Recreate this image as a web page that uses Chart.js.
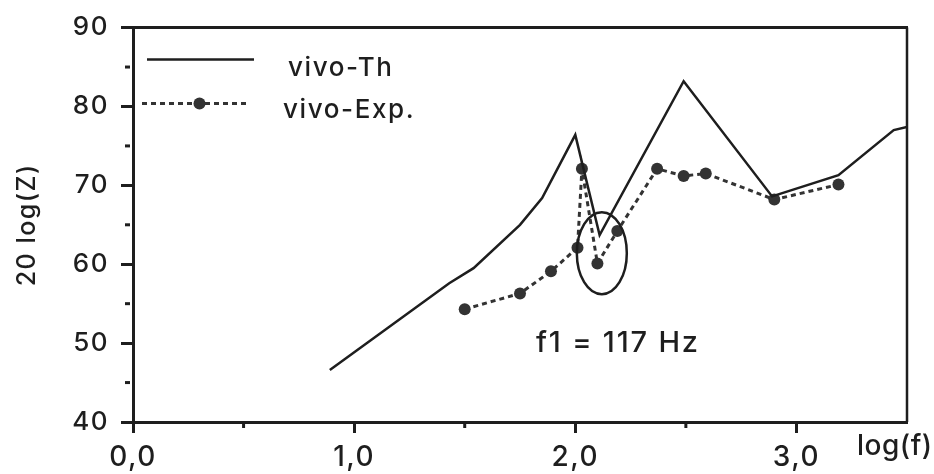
<!DOCTYPE html>
<html><head><meta charset="utf-8">
<script src="https://cdn.jsdelivr.net/npm/chart.js@4.4.1/dist/chart.umd.min.js"></script>
<style>html,body{margin:0;padding:0;background:#fff}</style>
</head><body>
<canvas id="c" width="934" height="474"></canvas>
<script>
// ---- data ----
const thX  = [0.89, 1.43, 1.54, 1.75, 1.85, 2.00, 2.11, 2.49, 2.89, 3.19, 3.44, 3.50];
const thY  = [46.6, 57.6, 59.5, 65.0, 68.4, 76.4, 63.7, 83.2, 68.6, 71.3, 77.0, 77.4];
const expX = [1.50, 1.75, 1.89, 2.01, 2.03, 2.10, 2.19, 2.37, 2.49, 2.59, 2.90, 3.19];
const expY = [54.3, 56.3, 59.1, 62.1, 72.1, 60.1, 64.2, 72.1, 71.2, 71.5, 68.2, 70.1];
const seriesLabels = ['vivo-Th', 'vivo-Exp.'];
const xTickValues = [0, 1, 2, 3];
const xTickLabels = ['0,0', '1,0', '2,0', '3,0'];
const yTickValues = [40, 50, 60, 70, 80, 90];
const yTickLabels = ['40', '50', '60', '70', '80', '90'];
const yTitle = '20 log(Z)';
const xTitle = 'log(f)';
const noteText = 'f1 = 117 Hz';
const notePos = [2.19, 50];
const ellipseCenter = [2.12, 61.4];
const ellipseRadii = [0.113, 5.2];

const FONT = 'Inter, "Liberation Sans", Arial, sans-serif';
const WEIGHT = '500';
const INK = '#1e1e1e';
const SPACING = '1.5px';

function near(v, arr) { return arr.findIndex(a => Math.abs(a - v) < 1e-6); }

const decor = {
  id: 'decor',
  beforeUpdate(chart) { chart.ctx.letterSpacing = SPACING; },
  beforeDraw(chart) {
    const ctx = chart.ctx;
    ctx.save();
    ctx.fillStyle = '#fff';
    ctx.fillRect(0, 0, chart.width, chart.height);
    ctx.restore();
    ctx.letterSpacing = SPACING;
  },
  afterDraw(chart) {
    const ctx = chart.ctx;
    const a = chart.chartArea;
    const xs = chart.scales.x, ys = chart.scales.y;
    ctx.save();
    ctx.strokeStyle = INK;
    ctx.lineCap = 'butt';
    // top & right frame
    ctx.lineWidth = 3;
    ctx.beginPath(); ctx.moveTo(a.left - 1.5, a.top); ctx.lineTo(a.right + 1, a.top); ctx.stroke();
    ctx.lineWidth = 2.5;
    ctx.beginPath(); ctx.moveTo(a.right, a.top); ctx.lineTo(a.right, a.bottom); ctx.stroke();
    // minor ticks
    ctx.lineWidth = 3;
    for (let v = 45; v < 90; v += 10) {
      const y = ys.getPixelForValue(v);
      ctx.beginPath(); ctx.moveTo(a.left - 8, y); ctx.lineTo(a.left - 3, y); ctx.stroke();
    }
    for (let v = 0.5; v < 3.5; v += 1) {
      const x = xs.getPixelForValue(v);
      ctx.beginPath(); ctx.moveTo(x, a.bottom); ctx.lineTo(x, a.bottom + 6); ctx.stroke();
    }
    // ellipse annotation
    const cx = xs.getPixelForValue(ellipseCenter[0]);
    const cy = ys.getPixelForValue(ellipseCenter[1]);
    const rx = Math.abs(xs.getPixelForValue(ellipseCenter[0] + ellipseRadii[0]) - cx);
    const ry = Math.abs(ys.getPixelForValue(ellipseCenter[1] + ellipseRadii[1]) - cy);
    ctx.lineWidth = 2.5;
    ctx.beginPath(); ctx.ellipse(cx, cy, rx, ry, 0, 0, Math.PI * 2); ctx.stroke();

    // legend (inside plot, top-left)
    const ds = chart.data.datasets;
    const rows = [
      {x0: a.left + 14, x1: a.left + 121, y: a.top + 32, tx: a.left + 155, ty: a.top + 41},
      {x0: a.left + 9,  x1: a.left + 116, y: a.top + 76, tx: a.left + 150, ty: a.top + 83}
    ];
    ds.forEach((d, i) => {
      const r = rows[i];
      ctx.save();
      ctx.strokeStyle = d.borderColor;
      ctx.lineWidth = d.borderWidth;
      ctx.setLineDash(d.borderDash || []);
      ctx.beginPath(); ctx.moveTo(r.x0, r.y); ctx.lineTo(r.x1, r.y); ctx.stroke();
      if (d.pointRadius > 0) {
        ctx.fillStyle = d.pointBackgroundColor;
        ctx.beginPath(); ctx.arc((r.x0 + r.x1) / 2 + 4, r.y, d.pointRadius, 0, Math.PI * 2); ctx.fill();
      }
      ctx.restore();
      ctx.fillStyle = INK;
      ctx.font = WEIGHT + ' 26px ' + FONT;
      ctx.letterSpacing = '1.6px';
      ctx.textAlign = 'left';
      ctx.textBaseline = 'middle';
      ctx.fillText(d.label, r.tx, r.ty);
    });

    // note text
    ctx.fillStyle = INK;
    ctx.font = WEIGHT + ' 29px ' + FONT;
    ctx.letterSpacing = '1.8px';
    ctx.textAlign = 'left';
    ctx.textBaseline = 'middle';
    ctx.fillText(noteText, 536, ys.getPixelForValue(notePos[1]));

    // x axis title at right end
    ctx.font = WEIGHT + ' 28px ' + FONT;
    ctx.letterSpacing = '0.5px';
    ctx.textAlign = 'left';
    ctx.textBaseline = 'alphabetic';
    ctx.fillText(xTitle, a.right - 50, a.bottom + 33);
    ctx.restore();
    ctx.letterSpacing = SPACING;
  }
};

new Chart(document.getElementById('c'), {
  type: 'scatter',
  data: {
    datasets: [
      {
        label: seriesLabels[0],
        data: thX.map((x, i) => ({x, y: thY[i]})),
        showLine: true,
        borderColor: INK,
        borderWidth: 2.5,
        pointRadius: 0,
        tension: 0
      },
      {
        label: seriesLabels[1],
        data: expX.map((x, i) => ({x, y: expY[i]})),
        showLine: true,
        borderColor: '#333',
        borderWidth: 3,
        borderDash: [5, 4],
        pointRadius: 6,
        pointBackgroundColor: '#333',
        pointBorderWidth: 0,
        tension: 0
      }
    ]
  },
  options: {
    responsive: false,
    animation: false,
    devicePixelRatio: 1,
    layout: { padding: { left: 0, right: 27, top: 22, bottom: 0 } },
    plugins: { legend: { display: false }, tooltip: { enabled: false } },
    scales: {
      x: {
        type: 'linear', min: 0, max: 3.5,
        ticks: {
          stepSize: 0.5, autoSkip: false, maxRotation: 0, padding: 8,
          color: INK, font: { family: FONT, size: 28, weight: WEIGHT },
          callback: v => { const i = near(v, xTickValues); return i >= 0 ? xTickLabels[i] : ''; }
        },
        grid: {
          drawOnChartArea: false, drawTicks: true, tickLength: 11, tickWidth: 3,
          tickColor: c => (c.tick && near(c.tick.value, xTickValues) >= 0) ? INK : 'rgba(0,0,0,0)'
        },
        border: { display: true, color: INK, width: 3 },
        afterFit: s => { s.height = 52; }
      },
      y: {
        type: 'linear', min: 40, max: 90,
        ticks: {
          stepSize: 5, autoSkip: false, padding: 12,
          color: INK, font: { family: FONT, size: 26, weight: WEIGHT },
          callback: v => { const i = near(v, yTickValues); return i >= 0 ? yTickLabels[i] : ''; }
        },
        grid: {
          drawOnChartArea: false, drawTicks: true, tickLength: 12, tickWidth: 3,
          tickColor: c => (c.tick && near(c.tick.value, yTickValues) >= 0) ? INK : 'rgba(0,0,0,0)'
        },
        border: { display: true, color: INK, width: 3 },
        title: { display: true, text: yTitle, color: INK, font: { family: FONT, size: 25, weight: WEIGHT }, padding: { top: 12, bottom: 0 } },
        afterFit: s => { s.width = 133; }
      }
    }
  },
  plugins: [decor]
});
</script>
</body></html>
